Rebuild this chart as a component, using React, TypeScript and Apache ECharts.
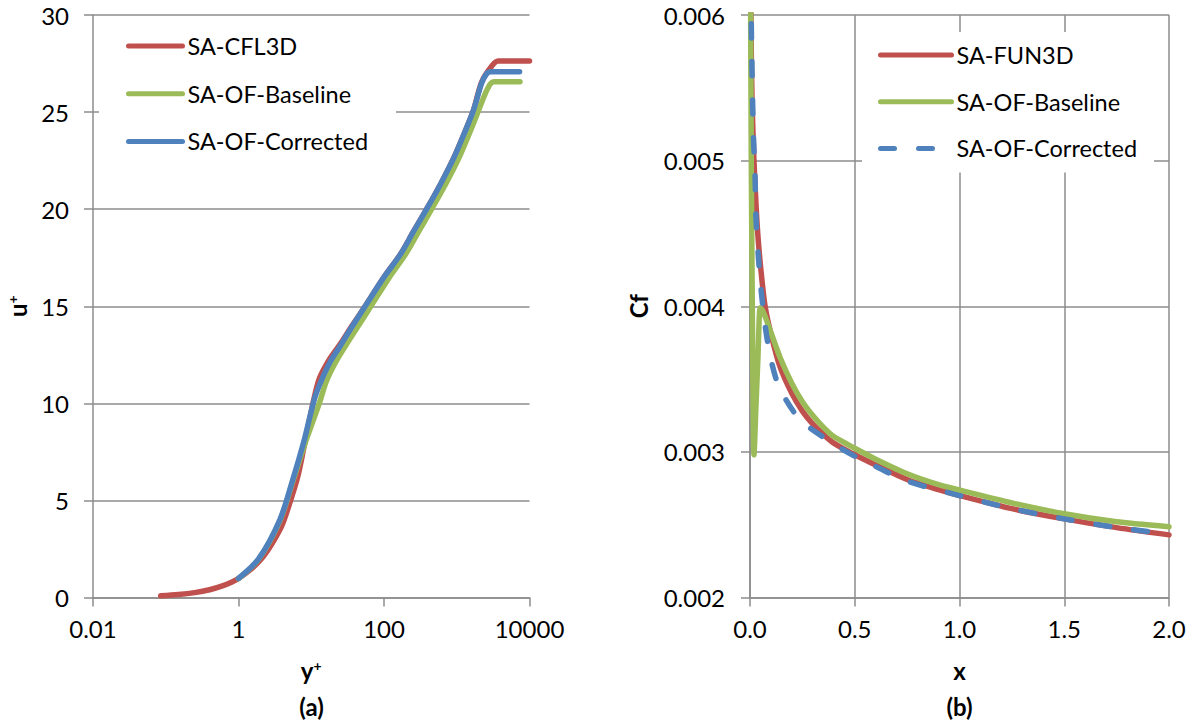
import React, { useEffect, useRef } from "react";
import * as echarts from "echarts";

const RED = "#C0504D";
const GREEN = "#9BBB59";
const BLUE = "#4F81BD";
const GRID = "#8C8C8C";
const FONT = "Lato";

// ---------- panel (a): u+ vs y+ ----------
const legendA = ["SA-CFL3D", "SA-OF-Baseline", "SA-OF-Corrected"];
const cfl3dYPlus = [0.085, 0.15, 0.25, 0.4, 0.6, 0.8, 1.0, 1.5, 2.0, 2.6, 3.2, 4.0, 5.0, 6.5, 8.0, 10.7, 13, 18, 25, 35, 55, 100, 170, 250, 385, 600, 900, 1300, 1700, 2200, 3000, 3700, 10000];
const cfl3dUPlus = [0.085, 0.15, 0.25, 0.4, 0.6, 0.79, 0.98, 1.47, 1.93, 2.5, 3.05, 3.75, 4.8, 6.2, 7.8, 10.1, 11.3, 12.3, 13.05, 13.9, 15.0, 16.5, 17.7, 18.8, 20.0, 21.3, 22.6, 24.0, 25.1, 26.55, 27.35, 27.63, 27.63];
const baseYPlus = [1.0, 1.9, 3.7, 5.6, 8.5, 12.9, 16, 21.5, 29.5, 42, 66, 119, 200, 295, 451, 705, 1060, 1530, 2000, 2500, 2900, 3250, 7400];
const baseUPlus = [0.97, 1.98, 3.95, 6.0, 8.1, 10.0, 11.1, 12.1, 12.95, 13.85, 15.0, 16.5, 17.7, 18.8, 20.0, 21.3, 22.6, 24.0, 25.1, 26.0, 26.45, 26.56, 26.56];
const corrYPlus = [1.0, 1.9, 3.7, 5.5, 8.0, 11.0, 13.5, 18, 25, 35, 55, 100, 170, 250, 385, 600, 900, 1300, 1700, 2200, 2600, 2900, 7300];
const corrUPlus = [0.98, 2.0, 4.0, 6.0, 8.1, 10.2, 11.1, 12.1, 12.95, 13.85, 15.0, 16.5, 17.7, 18.8, 20.0, 21.3, 22.6, 24.0, 25.1, 26.5, 27.0, 27.08, 27.08];

// ---------- panel (b): Cf vs x ----------
const legendB = ["SA-FUN3D", "SA-OF-Baseline", "SA-OF-Corrected"];
const fun3dX = [0.002, 0.005, 0.01, 0.019, 0.028, 0.037, 0.05, 0.072, 0.1, 0.143, 0.2, 0.25, 0.3, 0.35, 0.4, 0.5, 0.6, 0.75, 0.9, 1.0, 1.25, 1.5, 1.75, 2.0];
const fun3dCf = [0.0066, 0.0059, 0.0054, 0.005, 0.00472, 0.0045, 0.00428, 0.004, 0.00381, 0.003585, 0.0034, 0.00328, 0.00319, 0.00312, 0.00306, 0.00298, 0.00291, 0.00281, 0.00274, 0.0027, 0.00261, 0.00254, 0.00248, 0.00243];
const baseX = [0.002, 0.006, 0.011, 0.016, 0.019, 0.028, 0.038, 0.048, 0.06, 0.075, 0.1, 0.143, 0.2, 0.25, 0.3, 0.35, 0.4, 0.5, 0.6, 0.75, 0.9, 1.0, 1.25, 1.5, 1.75, 2.0];
const baseCf = [0.0064, 0.005, 0.004, 0.00315, 0.00298, 0.0033, 0.00365, 0.00399, 0.00397, 0.00392, 0.00382, 0.00365, 0.00347, 0.003345, 0.00325, 0.00317, 0.003105, 0.003025, 0.00295, 0.00285, 0.002775, 0.002738, 0.00265, 0.002575, 0.00252, 0.002486];
const corrX = [0.004, 0.008, 0.016, 0.024, 0.029, 0.04, 0.056, 0.087, 0.135, 0.231, 0.3, 0.421, 0.5, 0.6, 0.75, 1.0, 1.25, 1.5, 1.75, 1.98];
const corrCf = [0.0062, 0.00576, 0.00519, 0.0049, 0.00459, 0.00434, 0.00407, 0.00373, 0.00346, 0.003231, 0.00315, 0.003036, 0.00297, 0.0029, 0.0028, 0.0027, 0.00261, 0.00254, 0.00248, 0.00244];

const zip = (a: number[], b: number[]) => a.map((v, i) => [v, b[i]]);
const SUFFIX = " (b)";

const tickLabel = { color: "#000", fontFamily: FONT, fontSize: 24 };
const axisLineStyle = { show: true, lineStyle: { color: GRID, width: 1.5 } };
const tickStyle = { show: true, length: 9, lineStyle: { color: GRID, width: 1.5 } };
const splitStyle = { show: true, lineStyle: { color: GRID, width: 1.5 } };
const titleRich = {
  m: { fontSize: 24, fontWeight: "bold", fontFamily: FONT, color: "#000" },
  s: { fontSize: 14, fontWeight: "bold", fontFamily: FONT, color: "#000", verticalAlign: "top", lineHeight: 14 },
};
const legendText = { color: "#000", fontFamily: FONT, fontSize: 23.5, lineHeight: 24 };

function lineSeries(name: string, data: number[][], color: string, idx: number, smooth: number, dashed = false) {
  return {
    type: "line",
    name,
    xAxisIndex: idx,
    yAxisIndex: idx,
    data,
    symbol: "none",
    showSymbol: false,
    smooth,
    clip: true,
    lineStyle: {
      color,
      width: 5.5,
      type: dashed ? [14, 24] : "solid",
      cap: "round",
      join: "round",
    },
    itemStyle: { color },
    emphasis: { disabled: true },
  };
}

const legendBase = {
  orient: "vertical",
  itemHeight: 24,
  backgroundColor: "#fff",
  selectedMode: false,
  itemStyle: { opacity: 0, borderWidth: 0 },
  lineStyle: { width: 5, cap: "round" },
  textStyle: legendText,
};

export default function App() {
  const ref = useRef<HTMLDivElement>(null);
  useEffect(() => {
    if (!ref.current) return;
    const chart = echarts.init(ref.current, undefined, { renderer: "svg" });
    const option: any = {
      animation: false,
      backgroundColor: "#fff",
      textStyle: { fontFamily: FONT },
      grid: [
        { left: 93, top: 15, width: 436.5, height: 582.5 },
        { left: 750, top: 15, width: 419, height: 582.5 },
      ],
      xAxis: [
        {
          gridIndex: 0,
          type: "log",
          logBase: 100,
          min: 0.01,
          max: 10000,
          axisLine: axisLineStyle,
          axisTick: tickStyle,
          splitLine: { show: false },
          axisLabel: {
            ...tickLabel,
            margin: 19,
            formatter: (v: number) => String(Number(v.toPrecision(6))),
          },
          name: "{m|y}{s|+}",
          nameLocation: "middle",
          nameGap: 61,
          nameTextStyle: { rich: titleRich },
        },
        {
          gridIndex: 1,
          type: "value",
          min: 0,
          max: 2,
          interval: 0.5,
          axisLine: axisLineStyle,
          axisTick: tickStyle,
          splitLine: splitStyle,
          axisLabel: { ...tickLabel, margin: 19, formatter: (v: number) => v.toFixed(1) },
          name: "x",
          nameLocation: "middle",
          nameGap: 61,
          nameTextStyle: { fontSize: 24, fontWeight: "bold", fontFamily: FONT, color: "#000" },
        },
      ],
      yAxis: [
        {
          gridIndex: 0,
          type: "value",
          min: 0,
          max: 30,
          interval: 5,
          axisLine: axisLineStyle,
          axisTick: tickStyle,
          splitLine: splitStyle,
          axisLabel: { ...tickLabel, margin: 24 },
          name: "{m|u}{s|+}",
          nameLocation: "middle",
          nameRotate: 90,
          nameGap: 64,
          nameTextStyle: { rich: titleRich },
        },
        {
          gridIndex: 1,
          type: "value",
          min: 0.002,
          max: 0.006,
          interval: 0.001,
          axisLine: axisLineStyle,
          axisTick: tickStyle,
          splitLine: splitStyle,
          axisLabel: { ...tickLabel, margin: 25, formatter: (v: number) => v.toFixed(3) },
          name: "Cf",
          nameLocation: "middle",
          nameRotate: 90,
          nameGap: 100,
          nameTextStyle: { fontSize: 24, fontWeight: "bold", fontFamily: FONT, color: "#000" },
        },
      ],
      legend: [
        {
          ...legendBase,
          data: legendA,
          left: 99,
          top: 19,
          padding: [15, 28, 20, 27],
          itemWidth: 54,
          itemGap: 23.7,
        },
        {
          ...legendBase,
          data: legendB.map((n, i) => (i === 0 ? n : n + SUFFIX)),
          left: 862,
          top: 32,
          padding: [11, 17, 12, 16],
          itemWidth: 71,
          itemGap: 22.7,
          formatter: (n: string) => n.replace(SUFFIX, ""),
        },
      ],
      graphic: [
        {
          type: "text",
          x: 311.5,
          y: 706,
          style: { text: "(a)", fontSize: 24, fontWeight: "bold", fontFamily: FONT, fill: "#000", align: "center", verticalAlign: "middle" },
        },
        {
          type: "text",
          x: 959.5,
          y: 706,
          style: { text: "(b)", fontSize: 24, fontWeight: "bold", fontFamily: FONT, fill: "#000", align: "center", verticalAlign: "middle" },
        },
      ],
      series: [
        lineSeries(legendA[0], zip(cfl3dYPlus, cfl3dUPlus), RED, 0, 0.3),
        lineSeries(legendA[1], zip(baseYPlus, baseUPlus), GREEN, 0, 0.3),
        lineSeries(legendA[2], zip(corrYPlus, corrUPlus), BLUE, 0, 0.3),
        lineSeries(legendB[0], zip(fun3dX, fun3dCf), RED, 1, 0.3),
        lineSeries(legendB[1] + SUFFIX, zip(baseX, baseCf), GREEN, 1, 0.2),
        lineSeries(legendB[2] + SUFFIX, zip(corrX, corrCf), BLUE, 1, 0.3, true),
      ],
    };
    chart.setOption(option);
    return () => chart.dispose();
  }, []);
  return (
    <div
      ref={ref}
      style={{ position: "fixed", left: 0, top: 0, width: 1194, height: 723, background: "#fff" }}
    />
  );
}
